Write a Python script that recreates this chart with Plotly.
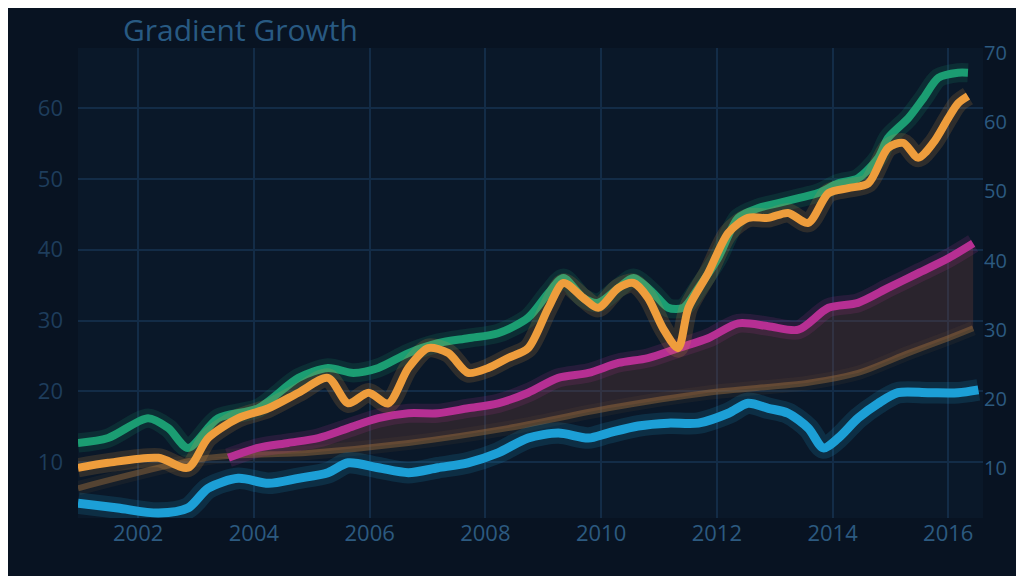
import plotly.graph_objects as go

# ---- data ----
title_text = "Gradient Growth"
x_ticks = [2002, 2004, 2006, 2008, 2010, 2012, 2014, 2016]
y_ticks_left = [10, 20, 30, 40, 50, 60]
y_ticks_right = [10, 20, 30, 40, 50, 60, 70]

green_x = [2000.96, 2001.48, 2002.17, 2002.52, 2002.86, 2003.38, 2004.07, 2004.77, 2005.28, 2005.72,
           2006.15, 2006.67, 2007.18, 2007.70, 2008.22, 2008.74, 2009.09, 2009.35, 2009.69, 2009.95,
           2010.30, 2010.56, 2010.90, 2011.16, 2011.42, 2011.68, 2012.02, 2012.37, 2012.72, 2013.06,
           2013.41, 2013.75, 2014.10, 2014.44, 2014.79, 2014.96, 2015.31, 2015.57, 2015.83, 2016.17, 2016.34]
green_y = [12.7, 13.4, 16.2, 14.8, 12.0, 16.2, 17.6, 21.9, 23.3, 22.6,
           23.3, 25.4, 26.8, 27.5, 28.2, 30.4, 33.9, 36.0, 33.2, 32.5,
           34.6, 36.0, 33.9, 31.8, 31.8, 34.6, 38.8, 44.5, 45.9, 46.6,
           47.3, 48.0, 49.4, 50.1, 53.0, 55.8, 58.6, 61.4, 64.3, 65.0, 65.0]

orange_x = [2000.96, 2001.48, 2002.35, 2002.86, 2003.21, 2003.73, 2004.25, 2004.77, 2005.28, 2005.63,
            2005.98, 2006.32, 2006.67, 2007.01, 2007.36, 2007.70, 2008.05, 2008.39, 2008.74, 2009.09,
            2009.35, 2009.69, 2009.95, 2010.30, 2010.56, 2010.81, 2011.07, 2011.33, 2011.51, 2011.85,
            2012.20, 2012.54, 2012.89, 2013.23, 2013.58, 2013.93, 2014.27, 2014.62, 2014.96, 2015.22,
            2015.48, 2015.74, 2016.00, 2016.17, 2016.34]
orange_y = [9.2, 9.9, 10.6, 9.2, 13.4, 16.2, 17.6, 19.8, 21.9, 18.3,
            19.8, 18.3, 23.3, 26.1, 25.4, 22.6, 23.3, 24.7, 26.1, 31.8,
            35.3, 33.2, 31.8, 34.6, 35.3, 33.2, 28.9, 26.1, 31.8, 36.7,
            42.4, 44.5, 44.5, 45.2, 43.8, 48.0, 48.7, 49.4, 54.4, 55.1,
            53.0, 55.1, 58.6, 60.7, 61.7]

magenta_x = [2003.56, 2004.07, 2004.59, 2005.11, 2005.63, 2006.15, 2006.67, 2007.18, 2007.70, 2008.22,
             2008.74, 2009.26, 2009.78, 2010.30, 2010.81, 2011.33, 2011.85, 2012.37, 2012.89, 2013.41,
             2013.93, 2014.44, 2014.96, 2015.48, 2016.00, 2016.43]
magenta_y = [10.6, 12.0, 12.7, 13.4, 14.8, 16.2, 16.9, 16.9, 17.6, 18.3,
             19.8, 21.9, 22.6, 24.0, 24.7, 26.1, 27.5, 29.6, 29.2, 28.7,
             31.8, 32.5, 34.6, 36.7, 38.8, 40.9]

amber_x = [2000.96, 2003.21, 2004.94, 2006.67, 2008.39, 2010.12, 2011.85, 2013.58, 2014.44, 2015.31, 2016.00, 2016.43]
amber_y = [6.3, 10.6, 11.3, 12.7, 14.8, 17.6, 19.8, 21.2, 22.6, 25.4, 27.5, 28.9]

blue_x = [2000.96, 2001.65, 2002.35, 2002.86, 2003.21, 2003.73, 2004.25, 2004.77, 2005.28, 2005.63,
          2006.15, 2006.67, 2007.18, 2007.70, 2008.22, 2008.74, 2009.26, 2009.78, 2010.12, 2010.64,
          2011.16, 2011.68, 2012.20, 2012.54, 2012.89, 2013.23, 2013.58, 2013.84, 2014.10, 2014.44,
          2014.79, 2015.13, 2015.65, 2016.17, 2016.52]
blue_y = [4.2, 3.5, 2.8, 3.5, 6.3, 7.7, 7.0, 7.7, 8.5, 9.9,
          9.2, 8.5, 9.2, 9.9, 11.3, 13.4, 14.1, 13.4, 14.1, 15.1,
          15.5, 15.5, 16.9, 18.3, 17.6, 16.9, 14.8, 12.0, 13.4, 16.2,
          18.3, 19.8, 19.8, 19.8, 20.2]

# ---- styling ----
BG = "#081322"
PLOT_BG = "#0a1829"
GRID = "#132c47"
TICK = "#2c5a80"
FONT = "Open Sans"

fig = go.Figure()

# filled band between magenta and amber
band_x = magenta_x + [x for x in reversed(amber_x) if x >= 2003.2]
band_y = magenta_y + [y for x, y in zip(reversed(amber_x), reversed(amber_y)) if x >= 2003.2]
fig.add_trace(go.Scatter(x=band_x, y=band_y, fill="toself", mode="none",
                         fillcolor="rgba(120,65,55,0.30)", hoverinfo="skip", showlegend=False))


def glow_line(xs, ys, color, glow, width=7):
    fig.add_trace(go.Scatter(x=xs, y=ys, mode="lines",
                             line=dict(color=glow, width=width * 2.4, shape="spline", smoothing=0.8),
                             hoverinfo="skip", showlegend=False))
    fig.add_trace(go.Scatter(x=xs, y=ys, mode="lines",
                             line=dict(color=color, width=width, shape="spline", smoothing=0.8),
                             showlegend=False))


glow_line(amber_x, amber_y, "rgba(160,110,60,0.45)", "rgba(160,110,60,0.08)", 6)
glow_line(blue_x, blue_y, "#1c9fd6", "rgba(28,159,214,0.16)", 9)
glow_line(magenta_x, magenta_y, "#b62f93", "rgba(182,47,147,0.16)", 8)
glow_line(green_x, green_y, "#1b9d72", "rgba(27,157,114,0.16)", 8)
glow_line(orange_x, orange_y, "#ee9d3c", "rgba(238,157,60,0.16)", 8)

# invisible trace to carry the right-hand axis
fig.add_trace(go.Scatter(x=blue_x, y=blue_y, yaxis="y2", mode="lines", line=dict(width=0),
                         opacity=0, hoverinfo="skip", showlegend=False))

fig.update_layout(
    width=1024, height=576,
    paper_bgcolor=BG, plot_bgcolor=PLOT_BG,
    margin=dict(l=70, r=49, t=40, b=66),
    font=dict(family=FONT, color=TICK),
    title=dict(text=title_text, x=115 / 1024, xanchor="left", y=1 - 22 / 576, yanchor="middle",
               font=dict(size=30, color="#285a82", family=FONT)),
    xaxis=dict(range=[2000.96, 2016.60], tickvals=x_ticks, ticktext=[str(t) for t in x_ticks],
               showgrid=True, gridcolor=GRID, gridwidth=2, zeroline=False, showline=False,
               tickfont=dict(size=22, color=TICK), ticks=""),
    yaxis=dict(range=[2.1, 68.5], tickvals=y_ticks_left, showgrid=True, gridcolor=GRID, gridwidth=2,
               zeroline=False, showline=False, tickfont=dict(size=22, color="#1e3d5c"), ticks="",
               ticklabelstandoff=14),
    yaxis2=dict(range=[2.8, 70.7], overlaying="y", side="right", tickvals=y_ticks_right, showgrid=False,
                zeroline=False, showline=False, tickfont=dict(size=20, color=TICK), ticks=""),
)

fig.write_html("out.html")
